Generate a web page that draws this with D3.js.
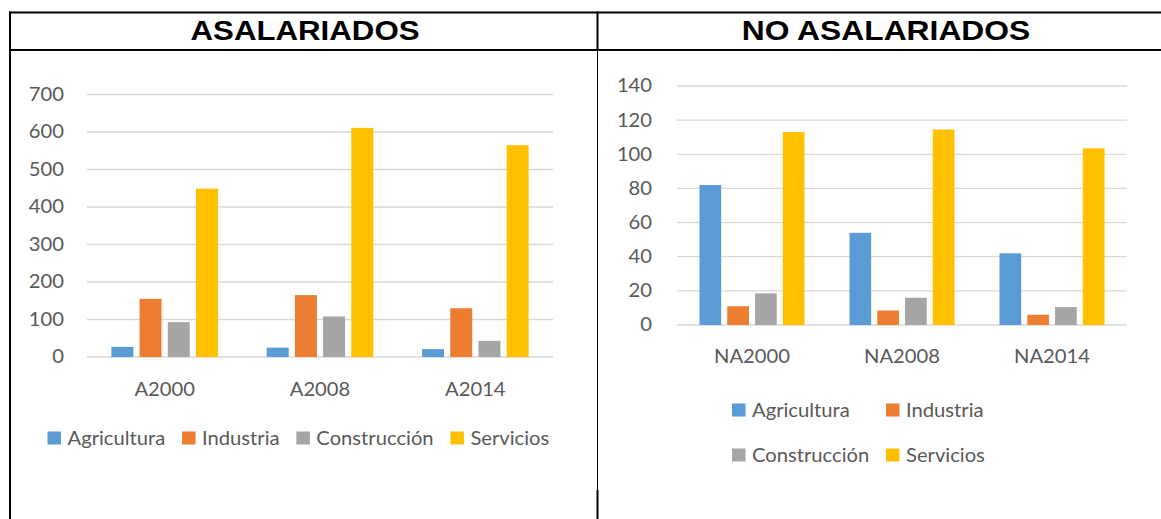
<!DOCTYPE html>
<html>
<head>
<meta charset="utf-8">
<script src="https://cdn.jsdelivr.net/npm/d3@7"></script>
<style>
  body { margin: 0; background: #fff; }
  svg { display: block; }
</style>
</head>
<body>
<svg id="chart" width="1161" height="519"></svg>
<script>
// series shared by both charts
const series = ["Agricultura", "Industria", "Construcción", "Servicios"];
const colors = ["#5B9BD5", "#ED7D31", "#A5A5A5", "#FFC000"];

// ASALARIADOS
const asalCategories = ["A2000", "A2008", "A2014"];
const asalAgricultura = [27, 25, 21];
const asalIndustria = [155, 165, 130];
const asalConstruccion = [93, 108, 43];
const asalServicios = [449, 611, 565];
const asalTicks = [0, 100, 200, 300, 400, 500, 600, 700];

// NO ASALARIADOS
const noAsalCategories = ["NA2000", "NA2008", "NA2014"];
const noAsalAgricultura = [82, 54, 42];
const noAsalIndustria = [11, 8.5, 6];
const noAsalConstruccion = [18.5, 16, 10.5];
const noAsalServicios = [113, 114.5, 103.5];
const noAsalTicks = [0, 20, 40, 60, 80, 100, 120, 140];

const svg = d3.select("#chart");
const font = "Lato, 'Open Sans', sans-serif";
const fontSize = 18.7;
const stretch = 1.08;      // the pasted charts are a bit wider than they are tall
const textColor = "#595959";

// table frame
const frame = svg.append("g").attr("stroke", "#000").attr("fill", "none");
frame.append("line").attr("x1", 9).attr("x2", 1161).attr("y1", 12.5).attr("y2", 12.5).attr("stroke-width", 2);
frame.append("line").attr("x1", 9).attr("x2", 1161).attr("y1", 50).attr("y2", 50).attr("stroke-width", 2);
frame.append("line").attr("x1", 10).attr("x2", 10).attr("y1", 11.5).attr("y2", 519).attr("stroke-width", 2);
frame.append("line").attr("x1", 597.5).attr("x2", 597.5).attr("y1", 11.5).attr("y2", 51).attr("stroke-width", 2);
frame.append("line").attr("x1", 597.5).attr("x2", 597.5).attr("y1", 51).attr("y2", 490).attr("stroke-width", 1);
frame.append("line").attr("x1", 597.5).attr("x2", 597.5).attr("y1", 490).attr("y2", 519).attr("stroke-width", 2);

const title = (txt, cx, size, sx) => svg.append("text")
    .attr("transform", "translate(" + cx + ",39.5) scale(" + sx + ",1)")
    .attr("text-anchor", "middle")
    .attr("font-family", "'Liberation Sans', Arial, sans-serif")
    .attr("font-weight", "bold")
    .attr("font-size", size)
    .attr("fill", "#000")
    .text(txt);

title("ASALARIADOS", 305, 28.4, 1.1);
title("NO ASALARIADOS", 886, 28.4, 1.12);

const drawChart = (cfg) => {
    const g = svg.append("g");
    const values = [cfg.agr, cfg.ind, cfg.con, cfg.ser];
    const rows = cfg.categories.map((c, i) => ({ cat: c, vals: series.map((s, j) => ({ s: s, v: values[j][i], k: j })) }));

    const y = d3.scaleLinear().domain([0, d3.max(cfg.ticks)]).range([cfg.bottom, cfg.top]);
    const x0 = d3.scaleBand().domain(cfg.categories).range([cfg.left, cfg.right])
        .paddingInner(cfg.groupPad).paddingOuter(cfg.groupPad / 2);
    const x1 = d3.scaleBand().domain(series).range([0, x0.bandwidth()]).paddingInner(0.22);

    // gridlines
    g.append("g").selectAll("line").data(cfg.ticks).enter().append("line")
        .attr("x1", cfg.left).attr("x2", cfg.right)
        .attr("y1", d => y(d)).attr("y2", d => y(d))
        .attr("stroke", "#D9D9D9").attr("stroke-width", 1.3);

    // y axis labels
    const yAxis = g.append("g").attr("transform", "translate(" + cfg.left + ",0)")
        .call(d3.axisLeft(y).tickValues(cfg.ticks).tickSize(0).tickPadding(cfg.yPad));
    yAxis.select(".domain").remove();
    yAxis.selectAll("text")
        .attr("x", -cfg.yPad / stretch)
        .attr("transform", "scale(" + stretch + ",1)")
        .attr("font-family", font).attr("font-size", fontSize).attr("fill", textColor);

    // x axis labels
    const xAxis = g.append("g").attr("transform", "translate(0," + cfg.bottom + ")")
        .call(d3.axisBottom(x0).tickSize(0).tickPadding(cfg.xPad));
    xAxis.select(".domain").remove();
    xAxis.selectAll("text")
        .attr("x", 0)
        .attr("transform", "scale(" + stretch + ",1)")
        .attr("font-family", font).attr("font-size", fontSize).attr("fill", textColor);

    // bars
    g.append("g").selectAll("g").data(rows).enter().append("g")
        .attr("transform", d => "translate(" + x0(d.cat) + ",0)")
        .selectAll("rect").data(d => d.vals).enter().append("rect")
        .attr("x", d => x1(d.s))
        .attr("y", d => y(d.v))
        .attr("width", x1.bandwidth())
        .attr("height", d => y(0) - y(d.v))
        .attr("fill", d => colors[d.k]);

    // legend
    const leg = g.append("g");
    let cx = cfg.legendX, cy = cfg.legendY;
    series.forEach((s, i) => {
        let px, py;
        if (cfg.legendCols) {
            px = cfg.legendCols[i % 2];
            py = cfg.legendRows[Math.floor(i / 2)];
        } else {
            px = cx; py = cy;
        }
        leg.append("rect").attr("x", px).attr("y", py - 6.5).attr("width", 13.5).attr("height", 13)
            .attr("fill", colors[i]);
        const t = leg.append("text")
            .attr("transform", "translate(" + (px + 20) + "," + (py + 6.7) + ") scale(" + stretch + ",1)")
            .attr("font-family", font).attr("font-size", fontSize).attr("fill", textColor)
            .text(s);
        cx = px + 20 + t.node().getComputedTextLength() * stretch + 16.8;
    });
};

drawChart({
    categories: asalCategories, agr: asalAgricultura, ind: asalIndustria,
    con: asalConstruccion, ser: asalServicios, ticks: asalTicks,
    left: 87, right: 553, top: 94.5, bottom: 357, groupPad: 0.314,
    yPad: 23, xPad: 25.7, legendX: 47.5, legendY: 438
});

drawChart({
    categories: noAsalCategories, agr: noAsalAgricultura, ind: noAsalIndustria,
    con: noAsalConstruccion, ser: noAsalServicios, ticks: noAsalTicks,
    left: 677, right: 1127, top: 86, bottom: 325, groupPad: 0.3,
    yPad: 25, xPad: 24.7,
    legendCols: [732, 886], legendRows: [410, 455]
});
</script>
</body>
</html>
